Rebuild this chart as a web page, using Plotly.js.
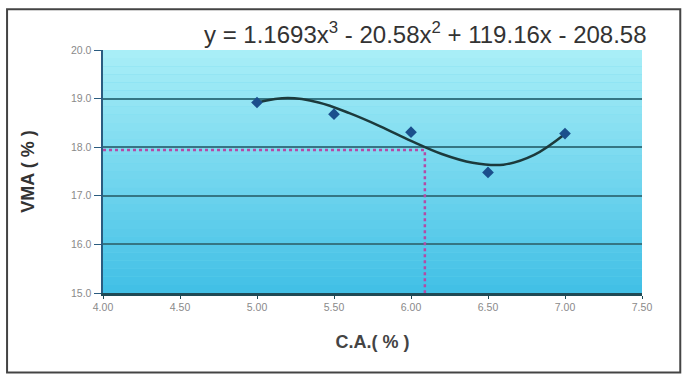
<!DOCTYPE html>
<html>
<head>
<meta charset="utf-8">
<script src="https://cdn.plot.ly/plotly-3.0.1.min.js"></script>
<style>html,body{margin:0;padding:0;background:#fff;}#chart{width:686px;height:379px;}</style>
</head>
<body>
<div id="chart"></div>
<script>
// Data points
const caValues = [5.00, 5.50, 6.00, 6.50, 7.00];
const vmaValues = [18.92, 18.68, 18.31, 17.48, 18.28];

// Trendline
const trendX = [5.0, 5.2, 5.4, 5.6, 5.8, 6.0, 6.2, 6.4, 6.6, 6.8, 7.0];
const trendY = [18.92, 19.01, 18.92, 18.70, 18.43, 18.13, 17.86, 17.68, 17.64, 17.84, 18.27];

// Dotted reference lines
const refX = [4.00, 6.09, 6.09];
const refY = [17.94, 17.94, 15.0];

const xTicks = [4.0, 4.5, 5.0, 5.5, 6.0, 6.5, 7.0, 7.5];
const xTickText = ['4.00', '4.50', '5.00', '5.50', '6.00', '6.50', '7.00', '7.50'];
const yTicks = [15, 16, 17, 18, 19, 20];
const yTickText = ['15.0', '16.0', '17.0', '18.0', '19.0', '20.0'];

const equationText = 'y = 1.1693x<sup>3</sup> - 20.58x<sup>2</sup> + 119.16x - 208.58';

// background gradient bands
const shapes = [];
const nBands = 30;
const colTop = [168, 238, 247], colBot = [66, 192, 230];
for (let i = 0; i < nBands; i++) {
  const t = i / (nBands - 1);
  const c = colTop.map((v, k) => Math.round(v + (colBot[k] - v) * t));
  shapes.push({type: 'rect', xref: 'x domain', yref: 'y domain', x0: 0, x1: 1,
    y1: 1 - i / nBands, y0: 1 - (i + 1) / nBands, fillcolor: 'rgb(' + c.join(',') + ')',
    line: {width: 0}, layer: 'below'});
}
// outer frame
shapes.push({type: 'rect', xref: 'paper', yref: 'paper', x0: -0.178, x1: 1.071, y0: -0.327, y1: 1.168,
  line: {color: '#444', width: 2}, fillcolor: 'rgba(0,0,0,0)', layer: 'above'});

const traces = [
  {x: refX, y: refY, mode: 'lines', line: {color: '#b54aa6', width: 2.5, dash: 'dot'}, hoverinfo: 'skip'},
  {x: trendX, y: trendY, mode: 'lines', line: {color: '#1c3a3c', width: 2.5, shape: 'spline', smoothing: 1}},
  {x: caValues, y: vmaValues, mode: 'markers', marker: {symbol: 'diamond', size: 9, color: '#1b4f8c'}}
];

const layout = {
  width: 686, height: 379,
  margin: {l: 103, r: 44, t: 50, b: 86},
  paper_bgcolor: '#ffffff',
  plot_bgcolor: '#6fd6ee',
  showlegend: false,
  font: {family: 'Liberation Sans, Arial, sans-serif', color: '#333'},
  xaxis: {
    range: [4.0, 7.5], tickvals: xTicks, ticktext: xTickText,
    showgrid: false, zeroline: false,
    showline: true, linecolor: '#1f4a55', linewidth: 2.5,
    ticks: 'outside', ticklen: 3, tickcolor: '#1f4a55',
    tickfont: {size: 10.5, color: '#8a8a8a'},
    title: {text: '<b>C.A.( % )</b>', font: {size: 18, color: '#444'}, standoff: 24}
  },
  yaxis: {
    range: [15, 20], tickvals: yTicks, ticktext: yTickText,
    showgrid: true, gridcolor: '#357684', gridwidth: 2, zeroline: false,
    showline: true, linecolor: '#2a5c80', linewidth: 2.5, mirror: false,
    ticks: 'outside', ticklen: 7, tickcolor: '#2a5c80',
    tickfont: {size: 10.5, color: '#8a8a8a'},
    title: {text: '<b>VMA ( % )</b>', font: {size: 18, color: '#333'}, standoff: 32}
  },
  shapes: shapes,
  annotations: [{
    xref: 'paper', yref: 'paper', x: 1.013, y: 1.07, xanchor: 'right', yanchor: 'middle',
    text: equationText, showarrow: false, font: {size: 24, color: '#333'}
  }]
};

Plotly.newPlot('chart', traces, layout, {displayModeBar: false, staticPlot: true});
</script>
</body>
</html>
